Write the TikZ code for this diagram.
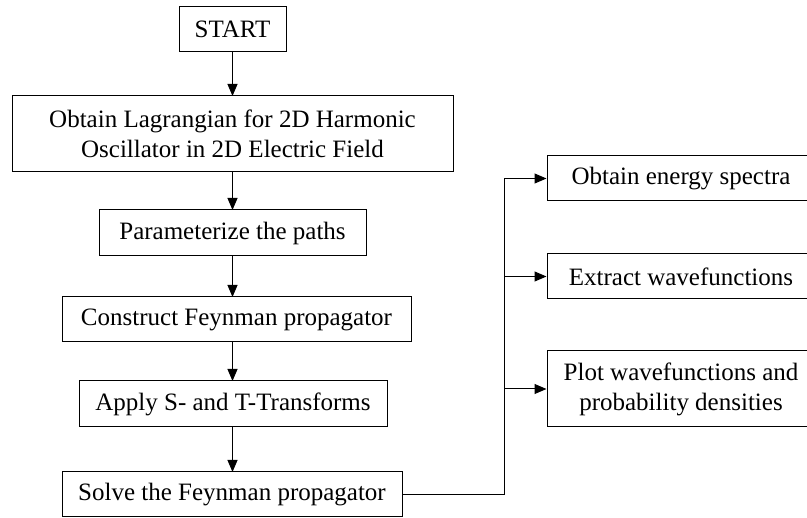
\documentclass[tikz,border=0pt]{standalone}
\usepackage{fontspec}
\setmainfont{Liberation Serif}
\usetikzlibrary{arrows.meta}

\tikzset{
  stepbox/.style={draw, line width=1pt, inner sep=0pt, align=center,
    font=\fontsize{25}{30}\selectfont},
  flowarrow/.style={line width=1pt, -{Triangle[length=12pt,width=10pt]}}
}

\begin{document}
\begin{tikzpicture}[x=1pt,y=-1pt]
\useasboundingbox (0,0) rectangle (807,518);
\clip (0,0) rectangle (807,518);

%main column
\node[stepbox, minimum width=107pt, minimum height=45pt] (start) at (232.5,29.5) {START};
\node[stepbox, minimum width=441pt, minimum height=76pt] (lagrangian) at (232.5,134) {Obtain Lagrangian for 2D Harmonic\\Oscillator in 2D Electric Field};
\node[stepbox, minimum width=267pt, minimum height=46pt] (paths) at (232.5,233) {Parameterize the paths};
\node[stepbox, minimum width=349pt, minimum height=45pt] (construct) at (236.5,319.5) {Construct Feynman propagator};
\node[stepbox, minimum width=308pt, minimum height=46pt] (transforms) at (233,404) {Apply S- and T-Transforms};
\node[stepbox, minimum width=340pt, minimum height=45pt] (solve) at (232,494.5) {Solve the Feynman propagator};

%results column (runs off the right edge)
\node[stepbox, minimum width=268pt, minimum height=45pt] (energy) at (681,178.5) {Obtain energy spectra};
\node[stepbox, minimum width=268pt, minimum height=45pt] (wavefn) at (681,276.5) {Extract wavefunctions};
\node[stepbox, minimum width=268pt, minimum height=76pt] (plots) at (681,389) {Plot wavefunctions and\\probability densities};

\coordinate (bus) at (504,0);

%arrows down the main column
\draw[flowarrow] (232.5,52) -- (232.5,96);
\draw[flowarrow] (232.5,172) -- (232.5,210);
\draw[flowarrow] (232.5,256) -- (232.5,297);
\draw[flowarrow] (232.5,342) -- (232.5,381);
\draw[flowarrow] (232.5,427) -- (232.5,472);

%branch to the results
\draw[flowarrow] (solve.east) -| (bus |- energy.west) -- (energy.west);
\draw[flowarrow] (bus |- wavefn.west) -- (wavefn.west);
\draw[flowarrow] (bus |- plots.west) -- (plots.west);
\end{tikzpicture}
\end{document}
